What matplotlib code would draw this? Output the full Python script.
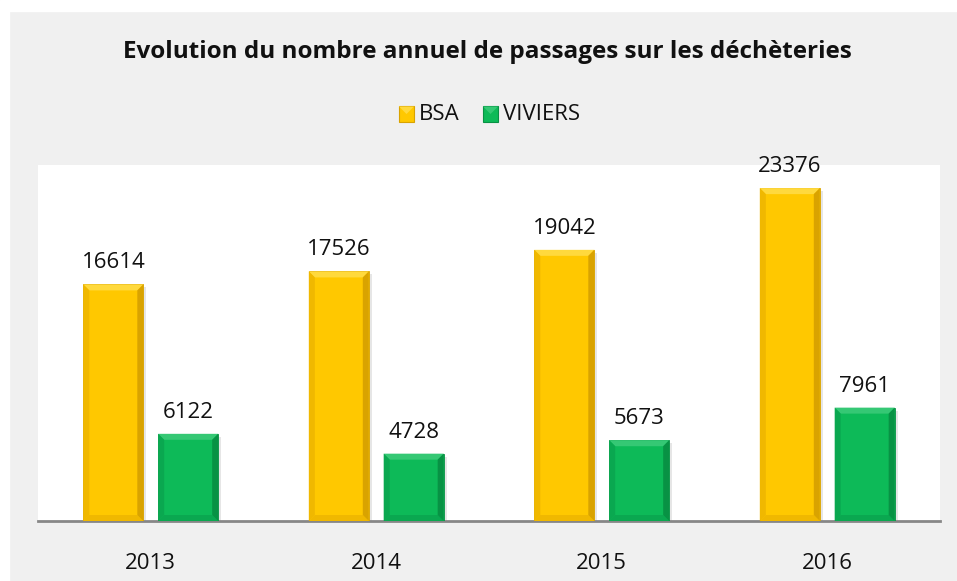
import matplotlib
matplotlib.use("Agg")
import matplotlib.pyplot as plt
from matplotlib.patches import Polygon, Rectangle
import numpy as np

categories = ["2013", "2014", "2015", "2016"]
bsa = [16614, 17526, 19042, 23376]
viviers = [6122, 4728, 5673, 7961]
series_names = ["BSA", "VIVIERS"]

W, H = 957, 581
DPI = 100
plt.rcParams['font.family'] = ['Open Sans', 'DejaVu Sans']

fig = plt.figure(figsize=(W / DPI, H / DPI), dpi=DPI, facecolor="#f0f0f0")
fig.patches.append(Rectangle((0, 0), 9 / W, 1, transform=fig.transFigure, color="white", zorder=-10))
fig.patches.append(Rectangle((0, 1 - 11 / H), 1, 11 / H, transform=fig.transFigure, color="white", zorder=-10))

left, right, top, bottom = 38, 940, 165, 521
ax = fig.add_axes([left / W, 1 - bottom / H, (right - left) / W, (bottom - top) / H])
ax.set_facecolor("white")
ax.set_xlim(-0.5, len(categories) - 0.5)
ax.set_ylim(0, 25000)

x = np.arange(len(categories))
bw = 0.266
off = 0.166
colors = {"BSA": ("#FFC800", "#FFD93D", "#F0B800", "#D9A300"),
          "VIVIERS": ("#0DBA58", "#35C874", "#0AA850", "#089244")}

px_per_x = (right - left) / (ax.get_xlim()[1] - ax.get_xlim()[0])
px_per_y = (bottom - top) / 25000
bev = 6.0
dx = bev / px_per_x
dy = bev / px_per_y
FS = 16

def draw_bars(xs, vals, name):
    base, light, dark, darker = colors[name]
    bars = ax.bar(xs, vals, width=bw, color=base, zorder=3, edgecolor=darker, linewidth=0.6)
    for b in bars:
        x0, x1 = b.get_x(), b.get_x() + b.get_width()
        y0, y1 = 0, b.get_height()
        ax.add_patch(Rectangle((x1, y0), 3 / px_per_x, y1 - 3 / px_per_y, color="#e6e6e6", zorder=2, lw=0))
        ax.add_patch(Polygon([(x0, y1), (x1, y1), (x1 - dx, y1 - dy), (x0 + dx, y1 - dy)],
                             closed=True, color=light, lw=0, zorder=4))
        ax.add_patch(Polygon([(x0, y0), (x1, y0), (x1 - dx, y0 + dy), (x0 + dx, y0 + dy)],
                             closed=True, color=dark, lw=0, zorder=4))
        ax.add_patch(Polygon([(x1, y1), (x1, y0), (x1 - dx, y0 + dy), (x1 - dx, y1 - dy)],
                             closed=True, color=darker, lw=0, zorder=4))
        ax.add_patch(Polygon([(x0, y1), (x0, y0), (x0 + dx, y0 + dy), (x0 + dx, y1 - dy)],
                             closed=True, color=dark, lw=0, zorder=4))
        ax.text((x0 + x1) / 2, y1 + 11 / px_per_y, f"{int(y1)}", ha="center", va="bottom",
                fontsize=FS, color="#111111", zorder=5)
    return bars

draw_bars(x - off, bsa, "BSA")
draw_bars(x + off, viviers, "VIVIERS")

for s in ["top", "right", "left"]:
    ax.spines[s].set_visible(False)
ax.spines["bottom"].set_color("#878787")
ax.spines["bottom"].set_linewidth(2)
ax.set_yticks([])
ax.set_xticks(x)
ax.set_xticklabels(categories, fontsize=FS, color="#111111")
ax.tick_params(axis="x", length=0, pad=23)

fig.text(487 / W, 1 - 52 / H, "Evolution du nombre annuel de passages sur les déchèteries",
         ha="center", va="center", fontsize=17.5, fontweight="bold", color="#111111")

leg_y = 1 - 114 / H
sq = 15
items = [(399, "BSA"), (483, "VIVIERS")]
for xs, name in items:
    base, light, dark, darker = colors[name]
    fig.patches.append(Rectangle((xs / W, leg_y - (sq / 2) / H), sq / W, sq / H,
                                 transform=fig.transFigure, facecolor=base, edgecolor=darker, lw=0.8))
    fig.patches.append(Polygon([(xs / W, leg_y + (sq / 2) / H), ((xs + sq) / W, leg_y + (sq / 2) / H),
                                ((xs + sq / 2) / W, leg_y)], closed=True, transform=fig.transFigure,
                               color=light, lw=0))
    fig.text((xs + sq + 5) / W, leg_y, name, ha="left", va="center", fontsize=FS, color="#111111")

fig.savefig("out.png", dpi=DPI, facecolor=fig.get_facecolor())
